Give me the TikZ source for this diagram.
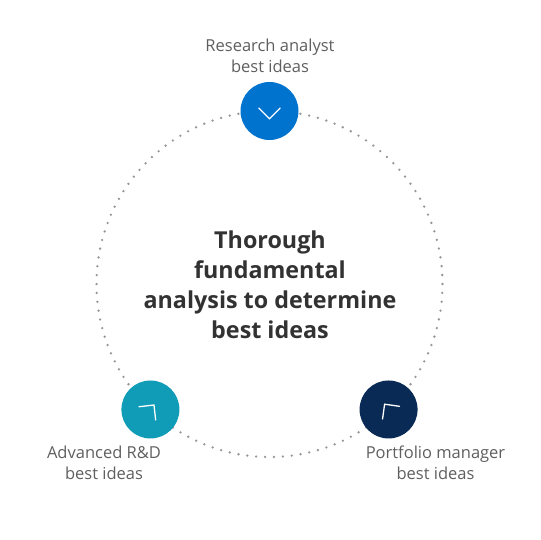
\documentclass[tikz,border=0pt]{standalone}
\usepackage{fontspec}
\setmainfont{Open Sans}
\usepackage{tikz}

\definecolor{analystblue}{RGB}{0,115,207}
\definecolor{rndteal}{RGB}{16,156,183}
\definecolor{managernavy}{RGB}{10,42,86}
\definecolor{labelgray}{RGB}{95,95,95}
\definecolor{titlegray}{RGB}{50,50,50}
\definecolor{dotgray}{RGB}{150,150,150}

\tikzset{
    hub/.style={circle, minimum size=58pt, inner sep=0pt},
    caption/.style={align=center, text=labelgray, font=\fontsize{16.5}{21}\selectfont},
    chevron/.style={white, line width=1.3pt, line cap=round, line join=miter},
}

% chevron inside a hub: node, pointing angle, offset of the tip
\newcommand{\hubchevron}[3]{%
    \draw[chevron] (#1) ++(#2:#3) coordinate (tip) ++(#2+135:15) -- (tip) -- ++(#2-135:15);
}

\begin{document}
\begin{tikzpicture}[x=1pt, y=-1pt]
        \useasboundingbox (0,0) rectangle (540,540);

        % Dotted ring
        \coordinate (ring) at (269.5,284);
        \draw[dotgray, line width=2.6pt, line cap=round, dash pattern=on 0pt off 8.91pt] (ring) circle (173);

        % Hubs on the ring
        \node[hub, fill=analystblue] (analyst) at ([shift={(-90:173)}]ring) {};
        \node[hub, fill=rndteal] (rnd) at ([shift={(133.5:173)}]ring) {};
        \node[hub, fill=managernavy] (manager) at ([shift={(46.5:173)}]ring) {};

        % Chevrons
        \hubchevron{analyst}{90}{7.8}
        \hubchevron{rnd}{-51.5}{5.7}
        \hubchevron{manager}{-127}{6.6}

        % Labels
        \node[caption] (analystlbl) at (270,56) {Research analyst\\best ideas};
        \node[caption] (rndlbl) at (104,463) {Advanced R\&D\\best ideas};
        \node[caption] (managerlbl) at (435.5,463) {Portfolio manager\\best ideas};

        % Centre text
        \node[align=center, text=titlegray, font=\fontsize{23.3}{30}\selectfont\bfseries] (title) at (270,285) {Thorough\\fundamental\\analysis to determine\\best ideas};

\end{tikzpicture}
\end{document}
